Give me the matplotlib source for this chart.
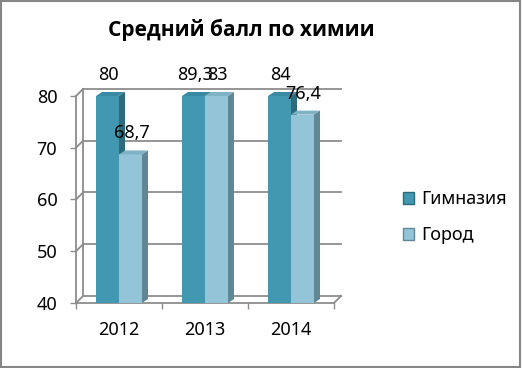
import matplotlib
matplotlib.use("Agg")
import matplotlib.pyplot as plt
from matplotlib.patches import Polygon, Rectangle, Patch

plt.rcParams['font.family'] = ['Noto Sans', 'DejaVu Sans']

# data
years = ["2012", "2013", "2014"]
gymnasium = [80, 89.3, 84]
city = [68.7, 83, 76.4]
series_names = ["Гимназия", "Город"]
yticks = [40, 50, 60, 70, 80]
ymin, ymax = 40, 80

W, H, DPI = 522, 368, 100
fig = plt.figure(figsize=(W / DPI, H / DPI), dpi=DPI)

# front plane of the 3D plot in pixels
left_px, right_px, bottom_px, top_px = 76, 334, 303, 96
ax = fig.add_axes([left_px / W, 1 - bottom_px / H,
                   (right_px - left_px) / W, (bottom_px - top_px) / H])
ax.set_xlim(0, len(years))
ax.set_ylim(ymin, ymax)

# pixel -> data conversion
px_x = len(years) / (right_px - left_px)
px_y = (ymax - ymin) / (bottom_px - top_px)
wall_dx, wall_dy = 7 * px_x, 7 * px_y
bar_dx, bar_dy = 6 * px_x, 4 * px_y

grid_col = "#8c8c8c"
gkw = dict(color=grid_col, lw=1.3, clip_on=False, zorder=0)

# back wall gridlines + left wall diagonals
for v in yticks:
    ax.plot([wall_dx, len(years) + wall_dx], [v + wall_dy, v + wall_dy], **gkw)
    ax.plot([0, wall_dx], [v, v + wall_dy], **gkw)
ax.plot([wall_dx, wall_dx], [ymin + wall_dy, ymax + wall_dy], **gkw)
# floor
ax.plot([0, len(years)], [ymin, ymin], **gkw)
ax.plot([len(years), len(years) + wall_dx], [ymin, ymin + wall_dy], **gkw)
ax.plot([0, 0], [ymin, ymax], **gkw)

for s in ax.spines.values():
    s.set_visible(False)
ax.set_yticks(yticks)
ax.set_yticklabels([str(v) for v in yticks], fontsize=13)
ax.tick_params(axis='y', length=4.5, color=grid_col, width=1, pad=9)
ax.set_xticks([i + 0.5 for i in range(len(years))])
ax.set_xticklabels(years, fontsize=13)
ax.tick_params(axis='x', length=0, pad=13)
ax.set_xticks(range(len(years) + 1), minor=True)
ax.tick_params(axis='x', which='minor', length=4.5, color=grid_col, width=1)

colors = {
    "Гимназия": ("#4398b1", "#2b6b7d", "#3a8aa3"),
    "Город": ("#93c4d8", "#5f8796", "#80b2c5"),
}
bar_w = 23 * px_x


def draw_bar(x0, value, cols):
    front, side, topc = cols
    top = min(value, ymax)
    ax.add_patch(Rectangle((x0, ymin), bar_w, top - ymin, facecolor=front,
                           edgecolor='none', zorder=3, clip_on=False))
    ax.add_patch(Polygon([(x0, top), (x0 + bar_dx, top + bar_dy),
                          (x0 + bar_w + bar_dx, top + bar_dy), (x0 + bar_w, top)],
                         facecolor=topc, edgecolor='none', zorder=3, clip_on=False))
    ax.add_patch(Polygon([(x0 + bar_w, ymin), (x0 + bar_w + bar_dx, ymin + bar_dy),
                          (x0 + bar_w + bar_dx, top + bar_dy), (x0 + bar_w, top)],
                         facecolor=side, edgecolor='none', zorder=3, clip_on=False))
    ax.annotate(f"{value:g}".replace(".", ","), (x0 + bar_w / 2, top),
                xytext=(1, 21), textcoords='offset pixels', ha='center',
                va='center', fontsize=13, zorder=5, annotation_clip=False)


for i in range(len(years)):
    c = i + 0.5
    draw_bar(c - bar_w, gymnasium[i], colors["Гимназия"])
    draw_bar(c, city[i], colors["Город"])

fig.text(241 / W, 1 - 30 / H, "Средний балл по химии", ha='center', va='center',
         fontsize=15, fontweight='bold', family=['Open Sans', 'DejaVu Sans'])

handles = [Patch(facecolor=colors[n][0], edgecolor=colors[n][1], label=n)
           for n in series_names]
fig.legend(handles=handles, loc='upper left', bbox_to_anchor=(387 / W, 1 - 174 / H),
           frameon=False, fontsize=13, handlelength=0.6, handleheight=0.6,
           handletextpad=0.4, labelspacing=1.0)

# chart border
fig.patches.append(Rectangle((0.002, 0.003), 0.995, 0.994, transform=fig.transFigure,
                             fill=False, edgecolor="#868686", lw=1.5))

fig.savefig("out.png", dpi=DPI)
